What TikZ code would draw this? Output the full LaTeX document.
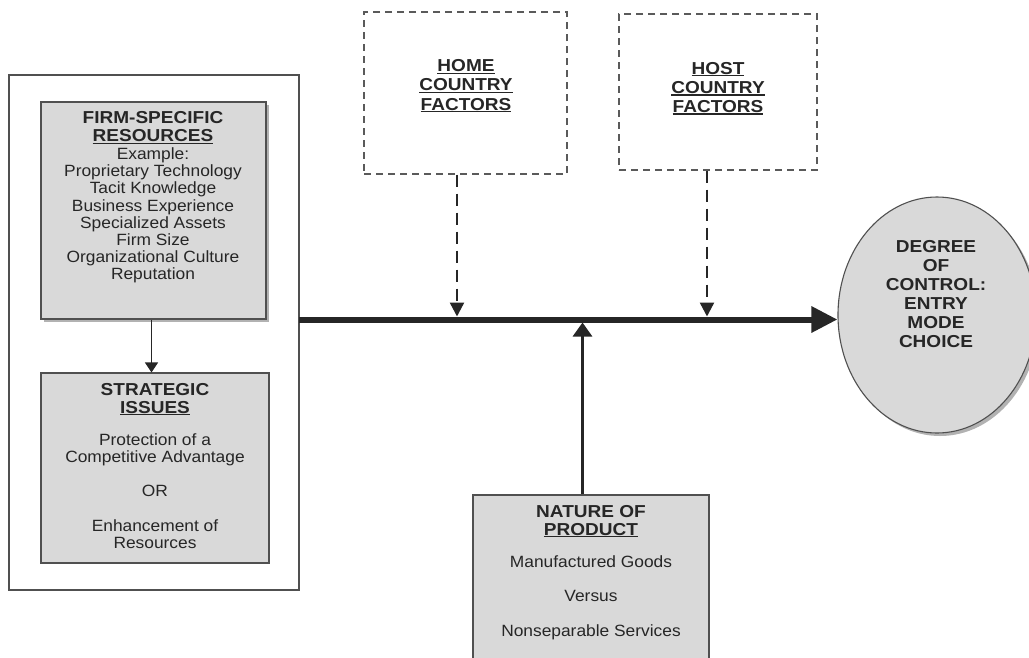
\documentclass[tikz,border=0pt]{standalone}
\usepackage{fontspec}
\setmainfont{Liberation Sans}[FakeStretch=1.065, BoldFeatures={FakeStretch=1.1}]
\usetikzlibrary{arrows.meta,shapes.geometric,shadows}
\definecolor{boxgray}{HTML}{D9D9D9}
\definecolor{ink}{HTML}{262626}
\definecolor{edgec}{HTML}{505050}
\definecolor{dash}{HTML}{5A5A5A}
\newsavebox\ulbox
\newcommand\ulw[1]{\sbox\ulbox{#1}\rlap{\rule[-2.4pt]{\wd\ulbox}{1.3pt}}\usebox\ulbox}
\begin{document}
\begin{tikzpicture}[x=1pt,y=-1pt,
  txt/.style={anchor=base, inner sep=0pt, text=ink, font=\fontsize{16.3}{17}\selectfont},
  hd/.style={anchor=base, inner sep=0pt, text=ink, font=\fontsize{17.3}{18}\selectfont\bfseries},
  gbox/.style={rectangle, draw=edgec, line width=1.1pt, fill=boxgray, inner sep=0pt},
  dbox/.style={rectangle, draw=dash, line width=1.1pt, dash pattern=on 7pt off 5pt, inner sep=0pt},
  shad/.style={drop shadow={shadow xshift=3pt, shadow yshift=-3pt, fill=black!30, opacity=1}},
  mainarrow/.style={draw=ink, line width=6pt, -{Triangle[length=26pt,width=25pt]}},
  uparrow/.style={draw=ink, line width=3pt, -{Triangle[length=14pt,width=19pt]}},
  darrow/.style={draw=ink, line width=2.4pt, dash pattern=on 12pt off 7pt, -{Triangle[length=14pt,width=14pt]}},
  thinarrow/.style={draw=ink, line width=1.3pt, -{Triangle[length=10pt,width=13pt]}}
]
\useasboundingbox (0,0) rectangle (1029,657);

% outer container
\node[rectangle, draw=edgec, line width=1.1pt, fill=white, inner sep=0pt,
      minimum width=290pt, minimum height=515pt] (outer) at (154,332.5) {};

% firm-specific resources
\node[gbox, shad, minimum width=225pt, minimum height=217pt] (firm) at (153.5,210.5) {};
\node[hd]  (f1)  at (153,123.3) {FIRM-SPECIFIC};
\node[hd]  (f2)  at (153,141.7) {\ulw{RESOURCES}};
\node[txt] (f3)  at (153,159.5) {Example:};
\node[txt] (f4)  at (153,176.7) {Proprietary Technology};
\node[txt] (f5)  at (153,193.9) {Tacit Knowledge};
\node[txt] (f6)  at (153,211.1) {Business Experience};
\node[txt] (f7)  at (153,228.3) {Specialized Assets};
\node[txt] (f8)  at (153,245.5) {Firm Size};
\node[txt] (f9)  at (153,262.7) {Organizational Culture};
\node[txt] (f10) at (153,279.9) {Reputation};

% strategic issues
\node[gbox, minimum width=228pt, minimum height=190pt] (strat) at (155,468) {};
\node[hd]  (s1) at (155,395) {STRATEGIC};
\node[hd]  (s2) at (155,413) {\ulw{ISSUES}};
\node[txt] (s3) at (155,445) {Protection of a};
\node[txt] (s4) at (155,462) {Competitive Advantage};
\node[txt] (s5) at (155,496.5) {OR};
\node[txt] (s6) at (155,531.5) {Enhancement of};
\node[txt] (s7) at (155,548) {Resources};

% home / host country factors
\node[dbox, minimum width=203pt, minimum height=162pt] (home) at (465.5,93) {};
\node[hd] (h1) at (466,71.7) {\ulw{HOME}};
\node[hd] (h2) at (466,90.7) {\ulw{COUNTRY}};
\node[hd] (h3) at (466,110) {\ulw{FACTORS}};

\node[dbox, minimum width=198pt, minimum height=156pt] (host) at (718,92) {};
\node[hd] (t1) at (718,74) {\ulw{HOST}};
\node[hd] (t2) at (718,93.3) {\ulw{COUNTRY}};
\node[hd] (t3) at (718,112.3) {\ulw{FACTORS}};

% nature of product
\node[gbox, minimum width=236pt, minimum height=170pt] (prod) at (591,580) {};
\node[hd]  (p1) at (591,517) {NATURE OF};
\node[hd]  (p2) at (591,535) {\ulw{PRODUCT}};
\node[txt] (p3) at (591,567) {Manufactured Goods};
\node[txt] (p4) at (591,601.5) {Versus};
\node[txt] (p5) at (591,636.5) {Nonseparable Services};

% degree of control
\node[ellipse, draw=edgec, line width=1.1pt, fill=boxgray, shad, inner sep=0pt,
      minimum width=198pt, minimum height=236pt] (deg) at (937,315) {};
\node[hd] (d1) at (936,252) {DEGREE};
\node[hd] (d2) at (936,271) {OF};
\node[hd] (d3) at (936,290) {CONTROL:};
\node[hd] (d4) at (936,309) {ENTRY};
\node[hd] (d5) at (936,328) {MODE};
\node[hd] (d6) at (936,347) {CHOICE};

% connectors
\coordinate (mstart) at (299,319.5);
\draw[mainarrow] (mstart) -- (mstart -| deg.west);
\draw[thinarrow] ([xshift=-2pt]firm.south) -- ([xshift=-2pt]firm.south |- strat.north);
\draw[darrow] ([xshift=-8.5pt]home.south) -- ([xshift=-8.5pt]home.south |- 0,316.5);
\draw[darrow] ([xshift=-11pt]host.south) -- ([xshift=-11pt]host.south |- 0,316.5);
\draw[uparrow] ([xshift=-8.5pt]prod.north) -- ([xshift=-8.5pt]prod.north |- 0,322.5);
\end{tikzpicture}
\end{document}
